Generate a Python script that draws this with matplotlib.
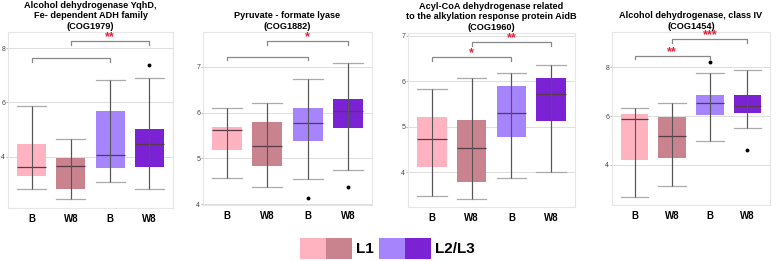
import matplotlib.pyplot as plt
from matplotlib.patches import Rectangle

plt.rcParams["font.family"] = ["Liberation Sans", "DejaVu Sans"]

titles = [
    "Alcohol dehydrogenase YqhD,\nFe- dependent ADH family\n(COG1979)",
    "Pyruvate - formate lyase\n(COG1882)",
    "Acyl-CoA dehydrogenase related\nto the alkylation response protein AidB\n(COG1960)",
    "Alcohol dehydrogenase, class IV\n(COG1454)",
]
group_labels = ["B", "W8", "B", "W8"]
colors = ["#FFB3C0", "#C8838E", "#A684FC", "#7A22D4"]

# per panel, per box: (whisker low, q1, median, q3, whisker high)
stats_p1 = [(2.81, 3.30, 3.63, 4.47, 5.87), (2.44, 2.80, 3.66, 3.96, 4.65),
            (3.06, 3.57, 4.06, 5.70, 6.81), (2.80, 3.63, 4.46, 5.00, 6.91)]
stats_p2 = [(4.58, 5.18, 5.62, 5.68, 6.11), (4.38, 4.84, 5.28, 5.79, 6.20),
            (4.55, 5.38, 5.78, 6.09, 6.74), (4.74, 5.66, 6.03, 6.30, 7.08)]
stats_p3 = [(3.47, 4.12, 4.72, 5.22, 5.82), (3.40, 3.77, 4.53, 5.14, 6.06),
            (3.87, 4.77, 5.30, 5.89, 6.18), (4.01, 5.12, 5.72, 6.08, 6.36)]
stats_p4 = [(2.69, 4.22, 5.88, 6.10, 6.34), (3.14, 4.30, 5.20, 5.96, 6.53),
            (4.98, 6.06, 6.52, 6.87, 7.75), (5.53, 6.13, 6.43, 6.88, 7.89)]
all_stats = [stats_p1, stats_p2, stats_p3, stats_p4]

outliers = [
    [[], [], [], [7.38]],
    [[], [], [4.14], [4.37]],
    [[], [], [], []],
    [[], [], [8.23], [4.60]],
]

# brackets: (x1, x2, y, label)
brackets = [
    [(0, 2, 7.63, ""), (1, 3, 8.25, "**")],
    [(0, 2, 7.22, ""), (1, 3, 7.56, "*")],
    [(0, 2, 6.53, "*"), (1, 3, 6.86, "**")],
    [(0, 2, 8.48, "**"), (1, 3, 9.16, "***")],
]

ylims = [(2.1, 8.6), (3.98, 7.76), (3.23, 7.06), (2.36, 9.45)]
yticks = [[4, 6, 8], [4, 5, 6, 7], [4, 5, 6, 7], [4, 6, 8]]

# axes boxes in pixels: left, right, top, bottom
boxes_px = [(8, 173, 32, 208), (203, 372, 32, 205),
            (408, 575, 33, 207), (612, 770, 32, 205)]

W, H = 777, 261
fig = plt.figure(figsize=(W / 100, H / 100), dpi=100)

for k in range(4):
    l, r, t, b = boxes_px[k]
    ax = fig.add_axes([l / W, 1 - b / H, (r - l) / W, (b - t) / H])
    ymin, ymax = ylims[k]
    bxp_stats = []
    for i, (lo, q1, med, q3, hi) in enumerate(all_stats[k]):
        bxp_stats.append(dict(whislo=lo, q1=q1, med=med, q3=q3, whishi=hi,
                              fliers=outliers[k][i]))
    bp = ax.bxp(bxp_stats, positions=range(4), widths=0.74, patch_artist=True,
                showfliers=True,
                boxprops=dict(linewidth=0),
                medianprops=dict(color="#5a3a48", linewidth=0.9),
                whiskerprops=dict(color="#666666", linewidth=0.8),
                capprops=dict(color="#aaaaaa", linewidth=0.9),
                capwidths=0.74,
                flierprops=dict(marker="o", markersize=1.8, markerfacecolor="black",
                                markeredgecolor="black"))
    for patch, c in zip(bp["boxes"], colors):
        patch.set_facecolor(c)
        patch.set_edgecolor(c)
    for i, st in enumerate(all_stats[k]):
        ax.vlines(i, st[0], st[4], color="#555555", linewidth=0.8, zorder=3)

    rng = ymax - ymin
    for x1, x2, y, lab in brackets[k]:
        d = 0.02 * rng
        ax.plot([x1, x1, x2, x2], [y - d, y, y, y - d], color="#888888", linewidth=0.9)
        if lab:
            ax.text((x1 + x2) / 2, y - 0.012 * rng, lab, color="#e8203a", ha="center",
                    va="bottom", fontsize=9, fontweight="bold")

    ax.set_xlim(-0.6, 3.6)
    ax.set_ylim(ymin, ymax)
    ax.set_yticks(yticks[k])
    ax.set_yticklabels([str(v) for v in yticks[k]])
    ax.set_xticks(range(4))
    ax.set_xticklabels(group_labels, fontweight="bold", fontsize=7)
    ax.tick_params(axis="y", labelsize=5, labelcolor="#444444", length=1.5,
                   color="#bbbbbb", pad=0.5)
    ax.tick_params(axis="x", length=0, pad=4)
    ax.grid(axis="y", color="#dddddd", linewidth=0.7)
    ax.set_axisbelow(True)
    for s in ax.spines.values():
        s.set_color("#e6e6e6")
        s.set_linewidth(0.8)
    ax.set_title(titles[k], fontsize=6.6, fontweight="bold", pad=2.5, linespacing=1.2)

# legend
legend_items = [("L1", colors[0], colors[1], 300, 356), ("L2/L3", colors[2], colors[3], 379, 435)]
for name, c1, c2, x0, xt in legend_items:
    for j, c in enumerate([c1, c2]):
        fig.patches.append(Rectangle(((x0 + 26 * j) / W, 1 - 259 / H), 26 / W, 21 / H,
                                     transform=fig.transFigure, facecolor=c,
                                     edgecolor="none"))
    fig.text(xt / W, 1 - 249 / H, name, fontsize=11, fontweight="bold", va="center",
             ha="left")

fig.savefig("out.png", dpi=100)
